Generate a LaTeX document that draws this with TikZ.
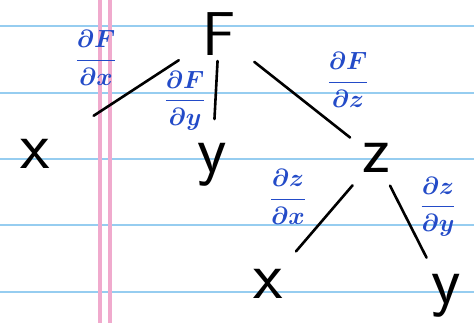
\documentclass[tikz,border=0pt]{standalone}
\usepackage{amsmath}
\usepackage{tikz}
\usetikzlibrary{calc}
\definecolor{inkblue}{RGB}{35,75,200}
\definecolor{rulecolor}{RGB}{150,205,240}
\definecolor{margincolor}{RGB}{240,170,205}

\begin{document}
\begin{tikzpicture}[
    x=1pt, y=-1pt,
    var/.style={font=\sffamily\fontsize{68}{68}\selectfont, inner sep=0pt},
    top/.style={font=\sffamily\fontsize{62}{62}\selectfont, inner sep=0pt},
    deriv/.style={text=inkblue, font=\fontsize{32}{34}\selectfont\boldmath, inner sep=0pt},
    edge/.style={draw, line width=2.6pt, line cap=round},
    rule/.style={draw, rulecolor, line width=1.6pt},
    margin/.style={draw, margincolor, line width=4pt}
]

    % paper
    \fill[white] (0,0) rectangle (474,323);
    \useasboundingbox (0,0) rectangle (474,323);
    \foreach \ly in {26,93,159,225,292}
        \draw [rule] (0,\ly) -- (474,\ly);
    \draw [margin] (100,0) -- (100,323);
    \draw [margin] (110,0) -- (110,323);

    % tree
    \node [top] (F) at (219,34) {F};
    \node [var] (x1) at (35,154) {x};
    \node [var] (y1) at (212,165) {y};
    \node [var] (z) at (376,158) {z};
    \node [var] (x2) at (268,284) {x};
    \node [var] (y2) at (446,296) {y};

    \draw [edge, shorten <=48pt, shorten >=70pt] (F.center) -- (x1.center);
    \draw [edge, shorten <=27pt, shorten >=46pt] (F.center) -- (y1.center);
    \draw [edge, shorten <=45pt, shorten >=33pt] (F.center) -- (z.center);
    \draw [edge, shorten <=36pt, shorten >=43pt] (z.center) -- (x2.center);
    \draw [edge, shorten <=31pt, shorten >=43pt] (z.center) -- (y2.center);

    % partial derivatives
    \node [deriv] (dFdx) at (96,58) {$\dfrac{\partial F}{\partial x}$};
    \node [deriv] (dFdy) at (185,101) {$\dfrac{\partial F}{\partial y}$};
    \node [deriv] (dFdz) at (348,80) {$\dfrac{\partial F}{\partial z}$};
    \node [deriv] (dzdx) at (288,197) {$\dfrac{\partial z}{\partial x}$};
    \node [deriv] (dzdy) at (438,207) {$\dfrac{\partial z}{\partial y}$};

\end{tikzpicture}
\end{document}
